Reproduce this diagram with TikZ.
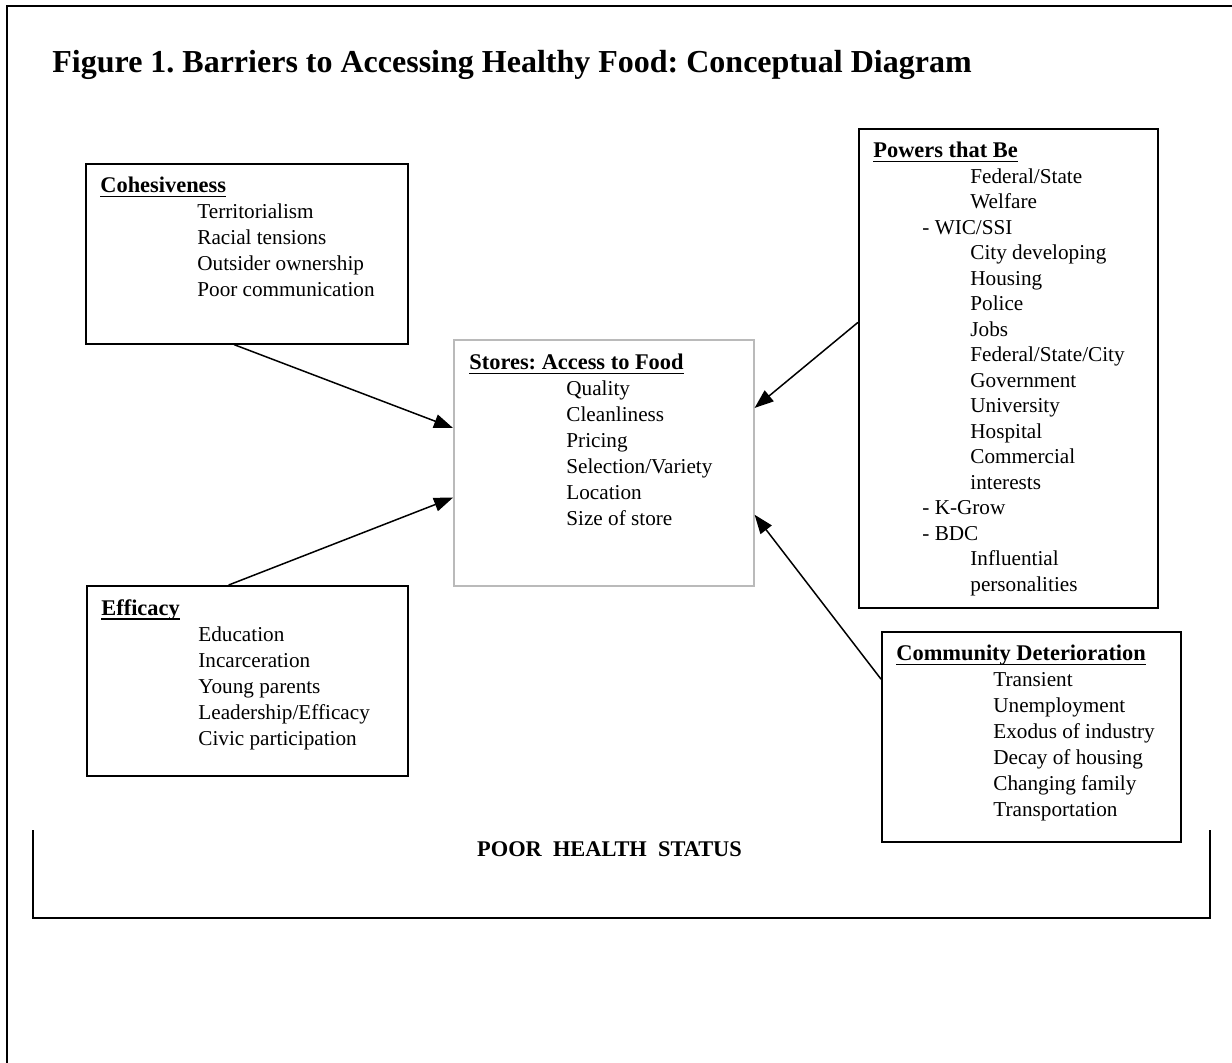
\documentclass[tikz,border=0pt]{standalone}
\usepackage{fontspec}
\setmainfont{Liberation Serif}
\usetikzlibrary{arrows.meta,calc}
\newcommand{\hd}[1]{{\fontsize{11.2}{13}\selectfont\bfseries\setbox0\hbox{#1}\rlap{\rule[-2.2pt]{\wd0}{0.9pt}}\box0}}
\newcommand{\indA}{\hspace*{48.5pt}}
\newcommand{\indB}{\hspace*{24.5pt}- }
\frenchspacing

\begin{document}
\begin{tikzpicture}[x=0.5pt, y=-0.5pt,
  box/.style={draw, line width=0.8pt, anchor=north west, inner sep=0pt},
  list/.style={anchor=north west, inner sep=0pt, align=left,
               font=\fontsize{10.6}{13}\selectfont},
  arr/.style={-{Triangle[length=9.5pt,width=7pt]}, line width=0.75pt},
]
  \useasboundingbox (0,0) rectangle (1232,1062);
  \draw[line width=1.1pt] (1240,6) -| (7,1070);

  \node[anchor=base west, inner sep=0pt, font=\fontsize{16}{19}\selectfont\bfseries] (title) at (52,72)
    {Figure 1. Barriers to Accessing Healthy Food: Conceptual Diagram};

  % boxes
  \node[box, minimum width=161pt, minimum height=90pt] (cohes) at (85,163) {};
  \node[box, minimum width=160.5pt, minimum height=95pt] (effic) at (86,585) {};
  \node[box, draw=black!27, minimum width=150pt, minimum height=123pt] (stores) at (453,339) {};
  \node[box, minimum width=149.5pt, minimum height=239.5pt] (powers) at (858,128) {};
  \node[box, minimum width=149.5pt, minimum height=105pt] (commun) at (881,631) {};

  % box texts
  \node[list] (cohesT) at ($(cohes.north west)+(15,14)$) {\hd{Cohesiveness}\\
    \indA Territorialism\\ \indA Racial tensions\\ \indA Outsider ownership\\
    \indA Poor communication};
  \node[list] (storesT) at ($(stores.north west)+(16,15)$) {\hd{Stores: Access to Food}\\
    \indA Quality\\ \indA Cleanliness\\ \indA Pricing\\ \indA Selection/Variety\\
    \indA Location\\ \indA Size of store};
  \node[list, font=\fontsize{10.6}{12.75}\selectfont] (powersT) at ($(powers.north west)+(15,14)$) {\hd{Powers that Be}\\
    \indA Federal/State\\ \indA Welfare\\ \indB WIC/SSI\\ \indA City developing\\
    \indA Housing\\ \indA Police\\ \indA Jobs\\ \indA Federal/State/City\\
    \indA Government\\ \indA University\\ \indA Hospital\\ \indA Commercial\\
    \indA interests\\ \indB K-Grow\\ \indB BDC\\ \indA Influential\\
    \indA personalities};
  \node[list] (communT) at ($(commun.north west)+(15,14)$) {\hd{Community Deterioration}\\
    \indA Transient\\ \indA Unemployment\\ \indA Exodus of industry\\
    \indA Decay of housing\\ \indA Changing family\\ \indA Transportation};
  \node[list] (efficT) at ($(effic.north west)+(15,14)$) {\hd{Efficacy}\\
    \indA Education\\ \indA Incarceration\\ \indA Young parents\\
    \indA Leadership/Efficacy\\ \indA Civic participation};

  \draw[arr] (cohes.-98) -- (stores.167);
  \draw[arr] (effic.101) -- (stores.193);
  \draw[arr] (powers.163) -- (stores.20);
  \draw[arr] (commun.159) -- (stores.-19);

  % bracket
  \draw[line width=1pt] (33,830) |- (1210,918) -- (1210,830);
  \node[anchor=base, inner sep=0pt, font=\fontsize{11.2}{13}\selectfont\bfseries] (health) at (609.5,856)
    {POOR~~HEALTH~~STATUS};
\end{tikzpicture}
\end{document}
